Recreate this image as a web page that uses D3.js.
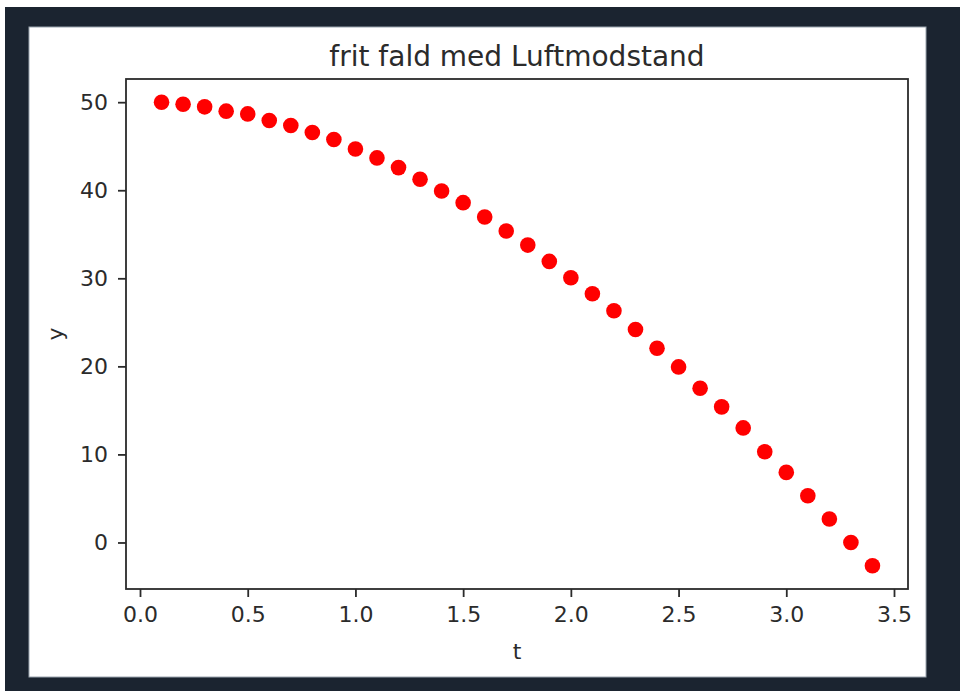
<!DOCTYPE html>
<html>
<head>
<meta charset="utf-8">
<script src="https://cdn.jsdelivr.net/npm/d3@7"></script>
<style>
    html, body { margin: 0; padding: 0; background: #fff; }
    svg { display: block; font-family: "DejaVu Sans", sans-serif; }
</style>
</head>
<body>
<svg id="chart"></svg>
<script>
// tidspunkter og hoejde aflaest fra figuren
const tValues = [0.1, 0.2, 0.3, 0.4, 0.5, 0.6, 0.7, 0.8, 0.9, 1.0,
    1.1, 1.2, 1.3, 1.4, 1.5, 1.6, 1.7, 1.8, 1.9, 2.0,
    2.1, 2.2, 2.3, 2.4, 2.5, 2.6, 2.7, 2.8, 2.9, 3.0,
    3.1, 3.2, 3.3, 3.4];
const yValues = [50.0, 49.77, 49.47, 48.98, 48.67, 47.92, 47.35, 46.55, 45.76, 44.69,
    43.67, 42.57, 41.24, 39.91, 38.59, 36.96, 35.37, 33.77, 31.92, 30.07,
    28.25, 26.31, 24.19, 22.06, 19.94, 17.51, 15.40, 13.01, 10.31, 7.96,
    5.31, 2.66, 0.0, -2.65];
const xTicks = [0.0, 0.5, 1.0, 1.5, 2.0, 2.5, 3.0, 3.5];
const yTicks = [0, 10, 20, 30, 40, 50];
const title = "frit fald med Luftmodstand";
const xLabel = "t";
const yLabel = "y";

const width = 960;
const height = 691;
const plot = {left: 126, right: 908, top: 79, bottom: 589};
const ink = "#2b2b2b";

const svg = d3.select("#chart")
    .attr("width", width)
    .attr("height", height);

// moerk ramme rundt om figuren
svg.append("rect")
    .attr("x", 5).attr("y", 7)
    .attr("width", width - 5).attr("height", height - 7)
    .attr("fill", "#1b2430");
svg.append("rect")
    .attr("x", 29).attr("y", 27)
    .attr("width", 897).attr("height", 650)
    .attr("fill", "#fff")
    .attr("stroke", "#9aa3ad")
    .attr("stroke-width", 1);

const points = tValues.map((t, i) => ({t: t, y: yValues[i]}));

// matplotlib-agtig margin paa 5 %
const pad = (lo, hi) => [lo - (hi - lo) * 0.05, hi + (hi - lo) * 0.05];
const [tMin, tMax] = d3.extent(tValues);
const [yMin, yMax] = d3.extent(yValues);

const xScale = d3.scaleLinear()
    .domain(pad(tMin, tMax))
    .range([plot.left, plot.right]);
const yScale = d3.scaleLinear()
    .domain(pad(yMin, yMax))
    .range([plot.bottom, plot.top]);

const xAxis = d3.axisBottom(xScale)
    .tickValues(xTicks)
    .tickFormat(d3.format(".1f"))
    .tickSize(8)
    .tickSizeOuter(0)
    .tickPadding(9);
const yAxis = d3.axisLeft(yScale)
    .tickValues(yTicks)
    .tickFormat(d3.format("d"))
    .tickSize(8)
    .tickSizeOuter(0)
    .tickPadding(10);

const gx = svg.append("g")
    .attr("transform", `translate(0, ${plot.bottom})`)
    .call(xAxis);
const gy = svg.append("g")
    .attr("transform", `translate(${plot.left}, 0)`)
    .call(yAxis);

for (let g of [gx, gy]) {
    g.select(".domain").remove();
    g.selectAll(".tick line").attr("stroke", ink).attr("stroke-width", 1.8);
    g.selectAll(".tick text")
        .attr("fill", ink)
        .style("font-size", "22px")
        .style("font-family", "'DejaVu Sans', sans-serif");
}

// punkterne
svg.append("g")
    .selectAll("circle")
    .data(points)
    .enter()
    .append("circle")
    .attr("cx", d => xScale(d.t))
    .attr("cy", d => yScale(d.y))
    .attr("r", 7.8)
    .attr("fill", "#ff0000");

// akseramme
svg.append("rect")
    .attr("x", plot.left)
    .attr("y", plot.top)
    .attr("width", plot.right - plot.left)
    .attr("height", plot.bottom - plot.top)
    .attr("fill", "none")
    .attr("stroke", ink)
    .attr("stroke-width", 1.8);

svg.append("text")
    .attr("x", (plot.left + plot.right) / 2)
    .attr("y", 66)
    .attr("text-anchor", "middle")
    .attr("fill", ink)
    .style("font-size", "28px")
    .text(title);

svg.append("text")
    .attr("x", (plot.left + plot.right) / 2)
    .attr("y", 659)
    .attr("text-anchor", "middle")
    .attr("fill", ink)
    .style("font-size", "22px")
    .text(xLabel);

svg.append("text")
    .attr("transform", `translate(63, ${(plot.top + plot.bottom) / 2}) rotate(-90)`)
    .attr("text-anchor", "middle")
    .attr("fill", ink)
    .style("font-size", "22px")
    .text(yLabel);
</script>
</body>
</html>
